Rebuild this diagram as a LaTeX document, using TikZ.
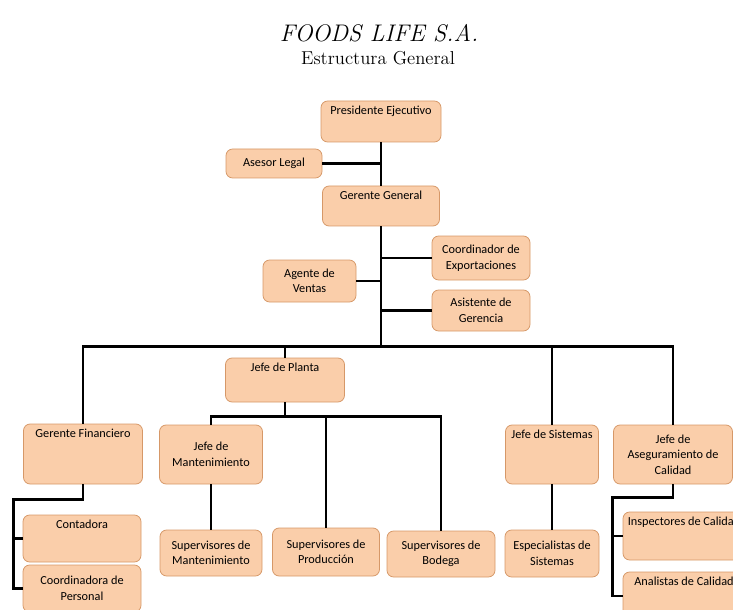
\documentclass[tikz,border=0pt]{standalone}
\usepackage{fontspec}
\setmainfont{Carlito}
\newfontfamily\titlefont{Latin Modern Roman}

\definecolor{boxfill}{RGB}{250,206,170}
\definecolor{boxedge}{RGB}{214,152,104}

\tikzset{
  cargo/.style={draw=boxedge, fill=boxfill, rounded corners=5pt, line width=0.6pt,
    align=center, inner sep=3pt, font=\fontsize{9.2}{11.6}\selectfont},
  dims/.style 2 args={minimum width=#1*0.75pt, minimum height=#2*0.75pt},
  arriba/.style={text height=7pt, text depth=#1},
  enlace/.style={line width=2.2pt},
}

\begin{document}
\begin{tikzpicture}[x=0.75pt, y=-0.75pt]
\useasboundingbox (0,0) rectangle (733,610);
\clip (0,0) rectangle (733,610);

% Titulo
\node[font=\titlefont\itshape\fontsize{18}{22}\selectfont] (titulo) at (379,33) {FOODS LIFE S.A.};
\node[font=\titlefont\fontsize{14}{16}\selectfont] (subtitulo) at (378,58) {Estructura General};

% Direccion
\node[cargo, dims={120}{41}, arriba=17.75pt] (presidente) at (381,121.5) {Presidente Ejecutivo};
\node[cargo, dims={96}{29}] (asesor) at (274,163.5) {Asesor Legal};
\node[cargo, dims={117}{40}, arriba=17pt] (gerente) at (381,206) {Gerente General};
\node[cargo, dims={98}{44}] (exportaciones) at (481,258) {Coordinador de\\Exportaciones};
\node[cargo, dims={93}{42}] (ventas) at (309.5,281) {Agente de\\Ventas};
\node[cargo, dims={98}{41}] (asistente) at (481,310.5) {Asistente de\\Gerencia};

% Jefaturas
\node[cargo, dims={119}{44}, arriba=20pt] (planta) at (285,380) {Jefe de Planta};
\node[cargo, dims={119}{60}, arriba=32pt] (financiero) at (83,454) {Gerente Financiero};
\node[cargo, dims={103}{59}] (mantenimiento) at (211,454.5) {Jefe de\\Mantenimiento};
\node[cargo, dims={93}{59}, arriba=31.25pt] (sistemas) at (552,454.5) {Jefe de Sistemas};
\node[cargo, dims={119}{59}] (calidad) at (673,454.5) {Jefe de\\Aseguramiento de\\Calidad};

% Personal a cargo
\node[cargo, dims={118}{47}, arriba=22.25pt] (contadora) at (82,538.5) {Contadora};
\node[cargo, dims={118}{47}] (personal) at (82,588.5) {Coordinadora de\\Personal};
\node[cargo, dims={102}{46}] (supmant) at (211,553) {Supervisores de\\Mantenimiento};
\node[cargo, dims={107}{48}] (supprod) at (326,552) {Supervisores de\\Producción};
\node[cargo, dims={108}{46}] (supbodega) at (441,554) {Supervisores de\\Bodega};
\node[cargo, dims={94}{47}] (especialistas) at (552,553.5) {Especialistas de\\Sistemas};
\node[cargo, dims={122}{48}, arriba=23pt] (inspectores) at (684,536) {Inspectores de Calidad};
\node[cargo, dims={122}{48}, arriba=23pt] (analistas) at (684,596) {Analistas de Calidad};

% Lineas de mando
\draw[enlace] (presidente) -- (gerente);
\draw[enlace] (asesor) -- (asesor -| presidente);
\draw[enlace] (gerente.south) -- ++(0,120) coordinate (bus);
\draw[enlace] (exportaciones) -- (exportaciones -| gerente);
\draw[enlace] (ventas) -- (ventas -| gerente);
\draw[enlace] (asistente) -- (asistente -| gerente);

\draw[enlace] (financiero.north) |- (bus) -| (calidad.north);
\draw[enlace] (bus -| planta) -- (planta);
\draw[enlace] (bus -| sistemas) -- (sistemas);

\draw[enlace] (planta.south) -- ++(0,14) coordinate (ramal);
\draw[enlace] (mantenimiento.north) |- (ramal) -| (supbodega.north);
\draw[enlace] (ramal -| supprod) -- (supprod);
\draw[enlace] (mantenimiento) -- (supmant);
\draw[enlace] (sistemas) -- (especialistas);

\draw[enlace] (financiero.south) -- ++(0,15) -| ([xshift=-7pt]personal.west) -- (personal.west);
\draw[enlace] (contadora.west) -- ([xshift=-7pt]contadora.west);
\draw[enlace] (calidad.south) -- ++(0,13) -| ([xshift=-7.5pt]analistas.west) -- (analistas.west);
\draw[enlace] (inspectores.west) -- ([xshift=-7.5pt]inspectores.west);
\end{tikzpicture}
\end{document}
